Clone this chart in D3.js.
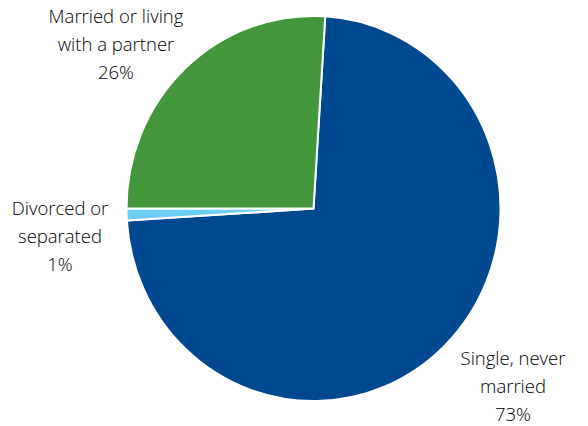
<!DOCTYPE html>
<html>
<head>
<meta charset="utf-8">
<script src="https://cdn.jsdelivr.net/npm/d3@7"></script>
<style>
  html, body { margin: 0; padding: 0; background: #fff; }
  svg { display: block; }
  text { font-family: "Open Sans", "Noto Sans", sans-serif; fill: #000; font-weight: 300; }
</style>
</head>
<body>
<svg id="chart" width="588" height="426"></svg>
<script>
// Marital status shares (percent)
const categories = ["Single, never married", "Divorced or separated", "Married or living with a partner"];
const values = [73, 1, 26];
const colors = ["#004990", "#6ccdf4", "#43963b"];
const labelLines = [
  ["Single, never", "married", "73%"],
  ["Divorced or", "separated", "1%"],
  ["Married or living", "with a partner", "26%"]
];
const labelAnchors = [[513, 365], [60, 215], [116, 23]];

const svg = d3.select("#chart");
const cx = 313.5, cy = 208.5, r = 187, yStretch = 1.03;

// First slice starts just clockwise of 12 o'clock so the married slice ends due west
const startAngle = 2 * Math.PI * values[1] / 100;
const pie = d3.pie().sort(null).value(d => d)
  .startAngle(startAngle).endAngle(startAngle + 2 * Math.PI);
const arc = d3.arc().innerRadius(0).outerRadius(r);

const g = svg.append("g")
  .attr("transform", `translate(${cx},${cy}) scale(1,${yStretch})`);

g.selectAll("path")
  .data(pie(values))
  .join("path")
  .attr("d", arc)
  .attr("fill", (d, i) => colors[i])
  .attr("stroke", "#fff")
  .attr("stroke-width", 2)
  .attr("stroke-linejoin", "round");

const labels = svg.append("g");
labelLines.forEach((lines, i) => {
  const t = labels.append("text")
    .attr("x", labelAnchors[i][0])
    .attr("y", labelAnchors[i][1])
    .attr("text-anchor", "middle")
    .attr("font-size", 18.5);
  lines.forEach((ln, j) => {
    t.append("tspan")
      .attr("x", labelAnchors[i][0])
      .attr("dy", j === 0 ? 0 : 28)
      .text(ln);
  });
});
</script>
</body>
</html>
